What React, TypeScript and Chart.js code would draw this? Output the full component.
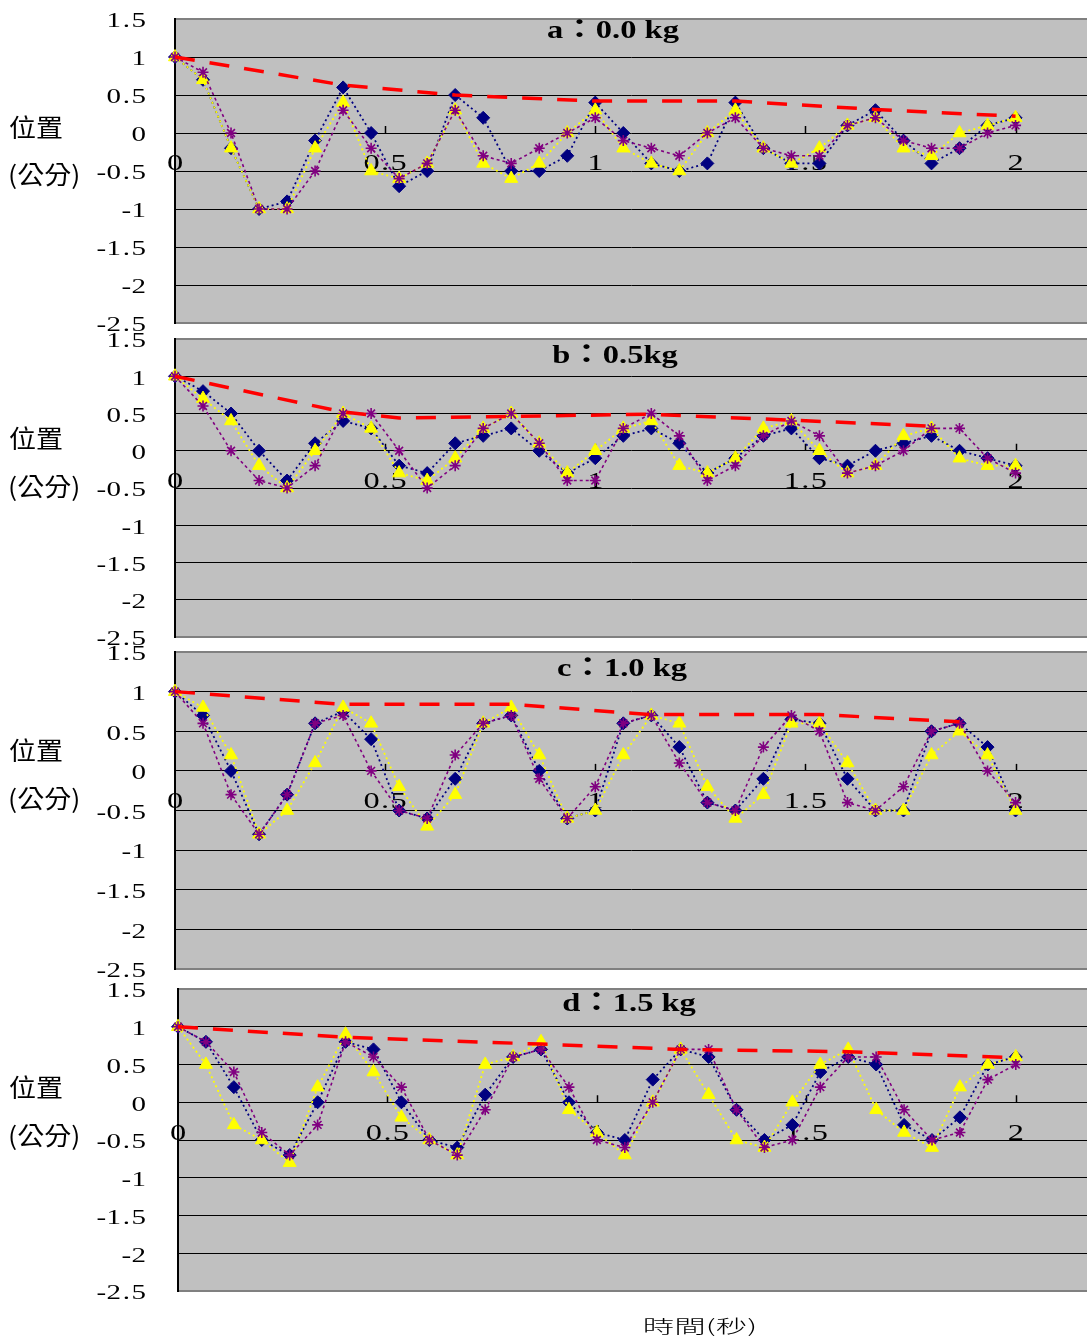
import React, { useEffect, useRef } from "react";
import { Chart, registerables } from "chart.js";

Chart.register(...registerables);

// Sampling: 15 frames per second over 2 s
const SAMPLES_PER_SECOND = 15;
const SAMPLE_COUNT = 31;
const TIMES = Array.from({ length: SAMPLE_COUNT }, (_, i) => i / SAMPLES_PER_SECOND);

const X_TICKS = [0, 0.5, 1, 1.5, 2];
const X_MAX = 2.17;
const Y_MIN = -2.5;
const Y_MAX = 1.5;
const Y_STEP = 0.5;

const TITLES = ["a：0.0 kg", "b：0.5kg", "c：1.0 kg", "d：1.5 kg"];
const Y_TITLE = ["位置", "(公分)"];
const X_TITLE = "時間(秒)";

// a: 0.0 kg
const A_TRIAL1 = [1, 0.7, -0.2, -1, -0.9, -0.1, 0.6, 0, -0.7, -0.5, 0.5, 0.2, -0.5, -0.5, -0.3, 0.4, 0, -0.4, -0.5, -0.4, 0.4, -0.2, -0.4, -0.4, 0.1, 0.3, -0.1, -0.4, -0.2, 0.1, 0.2];
const A_TRIAL2 = [1, 0.7, -0.2, -1, -1, -0.2, 0.4, -0.5, -0.6, -0.4, 0.3, -0.4, -0.6, -0.4, 0, 0.3, -0.2, -0.4, -0.5, 0, 0.3, -0.2, -0.4, -0.2, 0.1, 0.2, -0.2, -0.3, 0, 0.1, 0.2];
const A_TRIAL3 = [1, 0.8, 0, -1, -1, -0.5, 0.3, -0.2, -0.6, -0.4, 0.3, -0.3, -0.4, -0.2, 0, 0.2, -0.1, -0.2, -0.3, 0, 0.2, -0.2, -0.3, -0.3, 0.1, 0.2, -0.1, -0.2, -0.2, 0, 0.1];
const A_ENVELOPE_SAMPLE = [0, 6, 10, 15, 20, 25, 30];
const A_ENVELOPE = [1, 0.63, 0.5, 0.42, 0.42, 0.31, 0.22];

// b: 0.5 kg
const B_TRIAL1 = [1, 0.8, 0.5, 0, -0.4, 0.1, 0.4, 0.3, -0.2, -0.3, 0.1, 0.2, 0.3, 0, -0.3, -0.1, 0.2, 0.3, 0.1, -0.3, -0.1, 0.2, 0.3, -0.1, -0.2, 0, 0.1, 0.2, 0, -0.1, -0.2];
const B_TRIAL2 = [1, 0.7, 0.4, -0.2, -0.5, 0, 0.5, 0.3, -0.3, -0.4, -0.1, 0.3, 0.5, 0.1, -0.3, 0, 0.3, 0.4, -0.2, -0.3, -0.1, 0.3, 0.4, 0, -0.3, -0.2, 0.2, 0.3, -0.1, -0.2, -0.2];
const B_TRIAL3 = [1, 0.6, 0, -0.4, -0.5, -0.2, 0.5, 0.5, 0, -0.5, -0.2, 0.3, 0.5, 0.1, -0.4, -0.4, 0.3, 0.5, 0.2, -0.4, -0.2, 0.2, 0.4, 0.2, -0.3, -0.2, 0, 0.3, 0.3, -0.1, -0.3];
const B_ENVELOPE_SAMPLE = [0, 6, 8, 17, 27];
const B_ENVELOPE = [1, 0.52, 0.44, 0.49, 0.33];

// c: 1.0 kg
const C_TRIAL1 = [1, 0.7, 0, -0.8, -0.3, 0.6, 0.75, 0.4, -0.5, -0.6, -0.1, 0.6, 0.7, 0, -0.6, -0.5, 0.6, 0.7, 0.3, -0.4, -0.5, -0.1, 0.65, 0.6, -0.1, -0.5, -0.5, 0.5, 0.6, 0.3, -0.5];
const C_TRIAL2 = [1, 0.8, 0.2, -0.8, -0.5, 0.1, 0.8, 0.6, -0.2, -0.7, -0.3, 0.6, 0.8, 0.2, -0.6, -0.5, 0.2, 0.7, 0.6, -0.2, -0.6, -0.3, 0.6, 0.6, 0.1, -0.5, -0.5, 0.2, 0.5, 0.2, -0.5];
const C_TRIAL3 = [1, 0.6, -0.3, -0.8, -0.3, 0.6, 0.7, 0, -0.5, -0.6, 0.2, 0.6, 0.7, -0.1, -0.6, -0.2, 0.6, 0.7, 0.1, -0.4, -0.5, 0.3, 0.7, 0.5, -0.4, -0.5, -0.2, 0.5, 0.6, 0, -0.4];
const C_ENVELOPE_SAMPLE = [0, 6, 12, 17, 23, 28];
const C_ENVELOPE = [1, 0.84, 0.84, 0.71, 0.71, 0.62];

// d: 1.5 kg
const D_TRIAL1 = [1, 0.8, 0.2, -0.5, -0.7, 0, 0.8, 0.7, 0, -0.5, -0.6, 0.1, 0.6, 0.7, 0, -0.4, -0.5, 0.3, 0.7, 0.6, -0.1, -0.5, -0.3, 0.4, 0.6, 0.5, -0.3, -0.5, -0.2, 0.5, 0.6];
const D_TRIAL2 = [1, 0.5, -0.3, -0.5, -0.8, 0.2, 0.9, 0.4, -0.2, -0.5, -0.7, 0.5, 0.6, 0.8, -0.1, -0.4, -0.7, 0, 0.7, 0.1, -0.5, -0.6, 0, 0.5, 0.7, -0.1, -0.4, -0.6, 0.2, 0.5, 0.6];
const D_TRIAL3 = [1, 0.8, 0.4, -0.4, -0.7, -0.3, 0.8, 0.6, 0.2, -0.5, -0.7, -0.1, 0.6, 0.7, 0.2, -0.5, -0.6, 0, 0.7, 0.7, -0.1, -0.6, -0.5, 0.2, 0.6, 0.6, -0.1, -0.5, -0.4, 0.3, 0.5];
const D_ENVELOPE_SAMPLE = [0, 6, 13, 18, 24, 30];
const D_ENVELOPE = [1, 0.86, 0.77, 0.7, 0.67, 0.59];

const WIDTH = 1087;
const HEIGHT = 1338;
const PAD = 14;

const SERIF = '"Liberation Serif", "Times New Roman", serif';
const CJK = '"Noto Sans CJK TC", "Noto Sans CJK SC", sans-serif';

type Frame = {
  plotTop: number;
  plotBottom: number;
  plotLeft: number;
  titleX: number;
  titleY: number;
  yTitleY: [number, number];
};

const FRAMES: Frame[] = [
  { plotTop: 19, plotBottom: 323, plotLeft: 175, titleX: 613, titleY: 31, yTitleY: [127, 174] },
  { plotTop: 339, plotBottom: 637, plotLeft: 175, titleX: 615, titleY: 356, yTitleY: [438, 486] },
  { plotTop: 652, plotBottom: 969, plotLeft: 175, titleX: 622, titleY: 669, yTitleY: [750, 798] },
  { plotTop: 989, plotBottom: 1291, plotLeft: 178, titleX: 629, titleY: 1004, yTitleY: [1087, 1135] },
];

type PanelSpec = {
  title: string;
  trials: number[][];
  envSample: number[];
  env: number[];
  frame: Frame;
  showXTitle: boolean;
};

const PANELS: PanelSpec[] = [
  { title: TITLES[0], trials: [A_TRIAL1, A_TRIAL2, A_TRIAL3], envSample: A_ENVELOPE_SAMPLE, env: A_ENVELOPE, frame: FRAMES[0], showXTitle: false },
  { title: TITLES[1], trials: [B_TRIAL1, B_TRIAL2, B_TRIAL3], envSample: B_ENVELOPE_SAMPLE, env: B_ENVELOPE, frame: FRAMES[1], showXTitle: false },
  { title: TITLES[2], trials: [C_TRIAL1, C_TRIAL2, C_TRIAL3], envSample: C_ENVELOPE_SAMPLE, env: C_ENVELOPE, frame: FRAMES[2], showXTitle: false },
  { title: TITLES[3], trials: [D_TRIAL1, D_TRIAL2, D_TRIAL3], envSample: D_ENVELOPE_SAMPLE, env: D_ENVELOPE, frame: FRAMES[3], showXTitle: true },
];

// Draws text one glyph per fixed-width cell, each glyph widened horizontally.
function drawCells(
  ctx: CanvasRenderingContext2D,
  text: string,
  x: number,
  y: number,
  advance: number,
  hscale: number,
  align: "center" | "right"
) {
  const chars = Array.from(text);
  const total = advance * chars.length;
  const start = align === "center" ? x - total / 2 : x - total;
  ctx.textAlign = "center";
  ctx.textBaseline = "middle";
  chars.forEach((ch, k) => {
    ctx.save();
    ctx.translate(start + advance * (k + 0.5), y);
    ctx.scale(hscale, 1);
    ctx.fillText(ch, 0, 0);
    ctx.restore();
  });
}

function drawWide(ctx: CanvasRenderingContext2D, text: string, x: number, y: number, hscale: number, align: CanvasTextAlign) {
  ctx.save();
  ctx.translate(x, y);
  ctx.scale(hscale, 1);
  ctx.textAlign = align;
  ctx.textBaseline = "middle";
  ctx.fillText(text, 0, 0);
  ctx.restore();
}

function buildConfig(spec: PanelSpec, canvasTop: number, padBottom: number): any {
  const { frame } = spec;
  const ly = (absY: number) => absY - canvasTop;
  const points = (vals: number[]) => vals.map((v, i) => ({ x: TIMES[i], y: v }));

  const panelPlugin = {
    id: "panelDecor",
    beforeDraw(chart: any) {
      const { ctx, chartArea: a } = chart;
      ctx.save();
      ctx.fillStyle = "#C0C0C0";
      ctx.fillRect(a.left, a.top, a.right - a.left, a.bottom - a.top);
      ctx.restore();
    },
    beforeDatasetsDraw(chart: any) {
      const { ctx } = chart;
      const xs = chart.scales.x;
      const ys = chart.scales.y;
      const y0 = ys.getPixelForValue(0);
      ctx.save();
      // tick marks on the zero line
      ctx.strokeStyle = "#000";
      ctx.lineWidth = 1.5;
      X_TICKS.forEach((t) => {
        if (t === 0) return;
        const px = Math.round(xs.getPixelForValue(t)) + 0.5;
        ctx.beginPath();
        ctx.moveTo(px, y0 - 7);
        ctx.lineTo(px, y0);
        ctx.stroke();
      });
      // time labels below the zero line
      ctx.fillStyle = "#000";
      ctx.font = `24px ${SERIF}`;
      X_TICKS.forEach((t) => {
        drawCells(ctx, String(t), xs.getPixelForValue(t), y0 + 31, 13.5, 1.35, "center");
      });
      // panel title
      ctx.font = `bold 26px ${SERIF}, ${CJK}`;
      drawWide(ctx, spec.title, frame.titleX, ly(frame.titleY), 1.25, "center");
      ctx.restore();
    },
    afterDraw(chart: any) {
      const { ctx } = chart;
      const ys = chart.scales.y;
      ctx.save();
      ctx.fillStyle = "#000";
      ctx.font = `20px ${SERIF}`;
      ys.ticks.forEach((tk: any) => {
        drawCells(ctx, String(tk.value), 145, ys.getPixelForValue(tk.value) + 3, 12.5, 1.45, "right");
      });
      ctx.font = `25px ${CJK}`;
      drawWide(ctx, Y_TITLE[0], 9, ly(frame.yTitleY[0]), 1.08, "left");
      drawWide(ctx, Y_TITLE[1], 8, ly(frame.yTitleY[1]), 1.08, "left");
      if (spec.showXTitle) {
        ctx.font = `300 18px ${CJK}`;
        drawWide(ctx, X_TITLE, 700, ly(1326), 1.75, "center");
      }
      ctx.restore();
    },
  };

  return {
    type: "line",
    data: {
      datasets: [
        {
          label: "envelope",
          data: spec.envSample.map((s, k) => ({ x: TIMES[s], y: spec.env[k] })),
          borderColor: "#FF0000",
          borderWidth: 3.5,
          borderDash: [20, 15],
          pointRadius: 0,
          order: 0,
          clip: false,
        },
        {
          label: "trial 3",
          data: points(spec.trials[2]),
          borderColor: "#800080",
          borderWidth: 1.6,
          borderDash: [3, 3],
          pointStyle: "star",
          pointRadius: 5.5,
          pointBorderColor: "#800080",
          pointBackgroundColor: "#800080",
          pointBorderWidth: 1.6,
          order: 1,
          clip: false,
        },
        {
          label: "trial 2",
          data: points(spec.trials[1]),
          borderColor: "#FFFF00",
          borderWidth: 1.8,
          borderDash: [2, 3],
          pointStyle: "triangle",
          pointRadius: 7.5,
          pointBorderColor: "#FFFF00",
          pointBackgroundColor: "#FFFF00",
          pointBorderWidth: 1,
          order: 2,
          clip: false,
        },
        {
          label: "trial 1",
          data: points(spec.trials[0]),
          borderColor: "#000080",
          borderWidth: 1.8,
          borderDash: [2, 3],
          pointStyle: "rectRot",
          pointRadius: 6.5,
          pointBorderColor: "#000080",
          pointBackgroundColor: "#000080",
          pointBorderWidth: 1,
          order: 3,
          clip: false,
        },
      ],
    },
    options: {
      animation: false,
      responsive: false,
      maintainAspectRatio: false,
      events: [],
      layout: { autoPadding: false, padding: { top: PAD, bottom: padBottom, left: 0, right: 0 } },
      plugins: {
        legend: { display: false },
        tooltip: { enabled: false },
        title: { display: false },
      },
      scales: {
        x: { type: "linear", min: 0, max: X_MAX, display: false },
        y: {
          type: "linear",
          min: Y_MIN,
          max: Y_MAX,
          afterFit: (scale: any) => {
            scale.width = frame.plotLeft;
          },
          ticks: { stepSize: Y_STEP, display: false },
          grid: {
            drawTicks: false,
            color: (c: any) => (c.tick && (c.tick.value === Y_MAX || c.tick.value === Y_MIN) ? "#808080" : "#000000"),
            lineWidth: (c: any) => (c.tick && (c.tick.value === Y_MAX || c.tick.value === Y_MIN) ? 2 : 1),
          },
          border: { display: true, color: "#000000", width: 2 },
        },
      },
    },
    plugins: [panelPlugin],
  };
}

function PanelChart({ spec }: { spec: PanelSpec }) {
  const ref = useRef<HTMLCanvasElement>(null);
  const canvasTop = spec.frame.plotTop - PAD;
  const canvasHeight = spec.showXTitle ? HEIGHT - canvasTop : spec.frame.plotBottom - spec.frame.plotTop + 2 * PAD;
  const padBottom = canvasHeight - (spec.frame.plotBottom - canvasTop);

  useEffect(() => {
    if (!ref.current) return;
    const chart = new Chart(ref.current, buildConfig(spec, canvasTop, padBottom));
    return () => chart.destroy();
  }, [spec, canvasTop, padBottom]);

  return (
    <canvas
      ref={ref}
      width={WIDTH}
      height={canvasHeight}
      style={{ position: "absolute", left: 0, top: canvasTop, width: WIDTH, height: canvasHeight }}
    />
  );
}

export default function App() {
  return (
    <div style={{ position: "absolute", left: 0, top: 0, width: WIDTH, height: HEIGHT, background: "#fff", overflow: "hidden" }}>
      {PANELS.map((p) => (
        <PanelChart key={p.title} spec={p} />
      ))}
    </div>
  );
}
